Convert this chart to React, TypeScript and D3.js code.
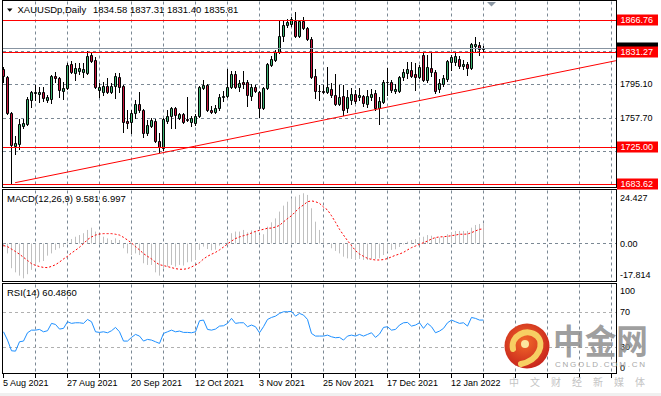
import * as d3 from 'd3';

const W = 661;
const H = 396;

// date labels under the chart, one every 16 bars
const dateLabels = ['5 Aug 2021', '27 Aug 2021', '20 Sep 2021', '12 Oct 2021', '3 Nov 2021', '25 Nov 2021', '17 Dec 2021', '12 Jan 2022'];
const dateIndex = [0, 16, 32, 48, 64, 80, 96, 112];

// daily XAUUSD bars, 5 Aug 2021 .. 24 Jan 2022
const opens = [1812.1, 1803.2, 1763.1, 1726.3, 1728.5, 1748.6, 1750.8, 1777.6, 1785.4, 1784.3, 1786.5, 1777.6, 1778.7, 1804.3, 1802.1, 1787.6, 1791.0, 1817.7, 1807.7, 1809.9, 1808.8, 1807.7, 1827.7, 1822.2, 1788.7, 1786.5, 1793.2, 1786.5, 1793.2, 1803.2, 1793.2, 1754.2, 1753.1, 1763.1, 1773.1, 1766.4, 1740.8, 1748.6, 1754.2, 1731.9, 1724.1, 1754.2, 1759.7, 1768.7, 1757.5, 1762.0, 1756.4, 1753.1, 1751.9, 1759.7, 1791.0, 1794.3, 1766.4, 1764.2, 1768.7, 1780.9, 1782.0, 1792.1, 1806.6, 1792.1, 1797.7, 1797.7, 1782.0, 1792.1, 1786.5, 1768.7, 1791.0, 1816.6, 1822.2, 1831.1, 1848.9, 1861.2, 1862.3, 1865.6, 1848.9, 1865.6, 1857.8, 1845.6, 1804.3, 1787.6, 1787.6, 1786.5, 1789.8, 1783.2, 1773.1, 1782.0, 1768.7, 1777.6, 1784.3, 1780.9, 1782.0, 1773.1, 1780.9, 1785.4, 1768.7, 1775.4, 1797.7, 1797.7, 1787.6, 1787.6, 1803.2, 1807.7, 1811.0, 1806.6, 1803.2, 1827.7, 1799.9, 1813.3, 1808.8, 1789.8, 1795.4, 1801.0, 1819.9, 1819.9, 1823.3, 1815.5, 1817.7, 1813.3, 1837.8, 1838.9, 1834.58];
const highs = [1814.4, 1804.3, 1764.2, 1737.5, 1756.4, 1756.4, 1780.9, 1787.6, 1794.3, 1792.1, 1792.1, 1783.2, 1805.5, 1808.8, 1803.2, 1797.7, 1818.8, 1821.1, 1818.8, 1818.8, 1818.8, 1832.2, 1831.1, 1825.5, 1796.5, 1797.7, 1802.1, 1796.5, 1807.7, 1807.7, 1794.3, 1766.4, 1766.4, 1777.6, 1786.5, 1767.5, 1755.3, 1757.5, 1756.4, 1740.8, 1757.5, 1766.4, 1769.8, 1769.8, 1763.1, 1763.1, 1780.9, 1759.7, 1762.0, 1793.2, 1799.9, 1795.4, 1770.9, 1772.0, 1784.3, 1787.6, 1812.1, 1809.9, 1809.9, 1799.9, 1809.9, 1799.9, 1795.4, 1794.3, 1787.6, 1792.1, 1818.8, 1826.6, 1833.3, 1866.8, 1866.8, 1867.9, 1870.1, 1875.7, 1866.8, 1870.1, 1859.0, 1847.8, 1812.1, 1794.3, 1794.3, 1814.4, 1796.5, 1806.6, 1794.3, 1794.3, 1788.7, 1791.0, 1788.7, 1791.0, 1783.2, 1788.7, 1789.8, 1788.7, 1780.9, 1799.9, 1813.3, 1799.9, 1795.4, 1804.3, 1812.1, 1819.9, 1819.9, 1818.8, 1816.6, 1831.1, 1827.7, 1830.0, 1811.0, 1801.0, 1805.5, 1822.2, 1827.7, 1830.0, 1826.6, 1822.2, 1819.9, 1841.1, 1847.8, 1842.2, 1837.31];
const lows = [1797.7, 1762.0, 1683.62, 1717.4, 1723.0, 1746.4, 1749.7, 1769.8, 1777.6, 1775.4, 1776.5, 1775.4, 1774.2, 1797.7, 1780.9, 1778.7, 1789.8, 1807.7, 1799.9, 1806.6, 1803.2, 1806.6, 1819.9, 1791.0, 1780.9, 1783.2, 1785.4, 1785.4, 1779.8, 1786.5, 1741.9, 1746.4, 1740.8, 1757.5, 1764.2, 1736.3, 1738.6, 1747.5, 1730.8, 1719.6, 1721.9, 1751.9, 1746.4, 1746.4, 1756.4, 1751.9, 1754.2, 1748.6, 1749.7, 1758.6, 1789.8, 1765.3, 1763.1, 1763.1, 1766.4, 1776.5, 1780.9, 1791.0, 1791.0, 1787.6, 1791.0, 1770.9, 1777.6, 1786.5, 1758.6, 1767.5, 1789.8, 1815.5, 1821.1, 1830.0, 1843.3, 1859.0, 1860.1, 1847.8, 1847.8, 1856.7, 1844.5, 1802.1, 1779.8, 1777.6, 1785.4, 1785.4, 1780.9, 1772.0, 1772.0, 1760.9, 1764.2, 1773.1, 1774.2, 1777.6, 1770.9, 1769.8, 1777.6, 1766.4, 1750.8, 1774.2, 1783.2, 1786.5, 1785.4, 1786.5, 1799.9, 1802.1, 1803.2, 1788.7, 1802.1, 1798.8, 1797.7, 1804.3, 1785.4, 1786.5, 1793.2, 1798.8, 1811.0, 1816.6, 1813.3, 1812.1, 1805.5, 1812.1, 1831.1, 1827.7, 1831.40];
const closes = [1804.3, 1763.1, 1727.4, 1729.6, 1750.8, 1751.9, 1778.7, 1786.5, 1786.5, 1786.5, 1779.8, 1780.9, 1804.3, 1802.1, 1788.7, 1791.0, 1816.6, 1808.8, 1813.3, 1813.3, 1812.1, 1826.6, 1821.1, 1792.1, 1792.1, 1793.2, 1786.5, 1793.2, 1804.3, 1792.1, 1753.1, 1751.9, 1763.1, 1773.1, 1766.4, 1740.8, 1749.7, 1755.3, 1731.9, 1725.2, 1756.4, 1759.7, 1768.7, 1760.9, 1762.0, 1753.1, 1755.3, 1757.5, 1759.7, 1792.1, 1794.3, 1766.4, 1764.2, 1768.7, 1780.9, 1782.0, 1792.1, 1806.6, 1792.1, 1796.5, 1795.4, 1783.2, 1792.1, 1787.6, 1768.7, 1791.0, 1817.7, 1823.3, 1831.1, 1848.9, 1861.2, 1864.5, 1867.9, 1848.9, 1865.6, 1857.8, 1845.6, 1803.2, 1787.6, 1787.1, 1786.5, 1792.1, 1783.2, 1773.1, 1780.9, 1766.4, 1780.9, 1784.3, 1776.5, 1783.2, 1774.2, 1782.0, 1784.3, 1768.7, 1776.5, 1797.7, 1797.1, 1788.7, 1789.8, 1803.2, 1808.8, 1811.6, 1804.3, 1803.2, 1814.4, 1799.9, 1814.4, 1808.8, 1787.6, 1796.5, 1802.1, 1821.1, 1825.5, 1826.6, 1815.5, 1817.7, 1812.7, 1840.0, 1840.0, 1834.4, 1835.81];

// MACD(12,26,9): main (grey histogram) and signal (red dots)
const macdMain = [-1.6, -4.9, -12.1, -14.1, -15.7, -17.0, -15.0, -12.9, -10.8, -9.2, -8.6, -6.0, -4.9, -3.2, -2.4, -1.8, 0.8, 2.1, 3.2, 4.0, 4.9, 6.5, 7.6, 5.7, 4.0, 3.2, 2.4, 1.6, 2.4, 1.6, -2.4, -4.9, -5.7, -4.9, -5.7, -9.7, -10.5, -10.5, -14.1, -15.7, -12.5, -11.3, -10.5, -11.3, -10.5, -10.8, -9.2, -8.9, -8.1, -3.2, -1.6, -2.8, -3.4, -3.1, -1.1, -0.3, 1.6, 4.9, 5.7, 5.7, 6.5, 5.3, 6.3, 6.0, 3.7, 4.4, 8.1, 10.2, 12.1, 15.4, 18.3, 20.2, 21.8, 22.7, 23.5, 24.3, 23.5, 17.0, 10.5, 6.5, 2.4, -0.5, -2.4, -3.7, -4.9, -6.5, -7.3, -7.6, -8.1, -7.6, -8.1, -8.1, -7.6, -7.6, -7.3, -5.7, -4.0, -3.2, -2.9, -1.8, -0.5, 0.8, 1.6, 2.1, 2.9, 3.2, 4.0, 3.7, 2.8, 2.8, 3.2, 4.4, 5.3, 6.0, 6.0, 6.0, 6.0, 7.6, 8.9, 9.4, 9.581];
const macdSignal = [-1.1, -1.6, -2.8, -4.0, -5.3, -6.8, -8.3, -9.9, -10.7, -11.3, -11.7, -11.8, -11.2, -10.4, -9.1, -7.6, -6.3, -4.7, -3.4, -1.9, -0.2, 1.8, 3.1, 4.0, 4.5, 4.7, 4.7, 4.7, 4.4, 4.0, 2.9, 1.6, 0.2, -1.6, -3.2, -5.0, -6.3, -7.6, -9.1, -10.4, -10.8, -11.3, -11.8, -12.3, -12.6, -12.6, -12.3, -11.5, -10.5, -9.4, -7.6, -6.3, -5.3, -4.4, -3.2, -1.8, -0.3, 1.1, 2.3, 3.1, 3.7, 4.2, 5.0, 5.8, 6.3, 6.8, 7.3, 7.4, 7.9, 8.7, 10.4, 12.0, 13.4, 15.4, 17.3, 18.6, 20.2, 20.6, 20.2, 19.4, 17.6, 16.2, 13.4, 10.2, 6.8, 4.0, 1.3, -1.1, -3.6, -5.2, -6.3, -7.3, -7.8, -8.1, -8.1, -7.9, -7.4, -6.6, -5.8, -5.2, -4.4, -3.2, -2.1, -1.3, -0.5, 0.3, 1.1, 2.1, 2.8, 3.1, 3.2, 3.4, 3.7, 4.0, 4.4, 4.4, 4.5, 5.2, 6.0, 6.8, 6.997];

// RSI(14)
const rsiValues = [47.1, 37.6, 25.4, 25.0, 35.7, 36.5, 46.0, 49.0, 49.0, 49.8, 47.1, 48.3, 56.7, 55.5, 50.2, 51.0, 58.6, 56.7, 57.4, 57.4, 56.7, 61.2, 58.6, 47.1, 46.4, 47.1, 46.0, 48.3, 52.1, 47.1, 36.5, 36.5, 40.7, 44.1, 42.2, 36.5, 38.4, 37.6, 35.7, 33.8, 45.2, 47.1, 49.0, 47.1, 47.9, 46.4, 46.4, 46.0, 47.1, 59.7, 60.5, 49.8, 49.0, 50.2, 53.6, 54.0, 56.7, 62.4, 56.7, 57.4, 57.4, 52.9, 54.8, 52.9, 46.0, 52.9, 61.2, 63.5, 65.0, 68.1, 70.0, 70.0, 70.4, 65.0, 68.1, 66.2, 61.2, 45.2, 42.2, 42.2, 42.2, 43.3, 41.4, 40.3, 40.7, 37.6, 42.2, 43.3, 42.2, 44.1, 42.2, 44.1, 46.0, 40.7, 44.5, 52.1, 52.9, 49.0, 49.8, 54.8, 57.4, 57.8, 53.6, 54.8, 57.4, 51.0, 56.7, 52.9, 46.0, 47.9, 51.0, 57.4, 60.5, 58.6, 56.7, 57.4, 53.6, 63.5, 62.4, 60.5, 60.486];

// horizontal support / resistance lines and price grid
const levelPrices = [1866.76, 1831.27, 1725.0, 1683.62];
const gridPrices = [1832.5, 1795.1, 1757.7, 1720.3];
// grid labels that are not hidden behind the red level labels
const gridLabels = [1795.1, 1757.7];
const bidPrice = 1835.81;
// rising trendline, bar index / price at both ends
const trendIndex = [2.9, 153.1];
const trendPrice = [1685.4, 1821.4];
const macdTicks = ['24.427', '0.00', '-17.814'];
const macdTickValues = [24.427, 0, -17.814];
const rsiLevels = [100, 70, 30, 0];

const FONT = "'Liberation Sans', Arial, sans-serif";
const GRID = '#7b8894';
const BULL = '#3cb371';
const BEAR = '#c8143c';

const PANE = {
  left: 2.5,
  right: 616.5,
  main: [0.5, 187.5],
  macd: [189.5, 281.5],
  rsi: [283.5, 373.5],
};

export default function App() {
  const n = closes.length;
  const x = d3.scaleLinear().domain([0, 1]).range([3.5, 7.5]);
  const y = d3.scaleLinear().domain([1683.62, 1866.76]).range([184.3, 20]);
  const yMacd = d3.scaleLinear().domain([-17.814, 24.427]).range([280, 193]);
  const yRsi = d3.scaleLinear().domain([0, 100]).range([373, 285.5]);
  const snap = (v: number) => Math.round(v) + 0.5;

  const gridX = d3.range(8, 160, 8).map(i => x(i));

  const signalLine = d3.line<number>().x((_, i) => x(i)).y(d => yMacd(d))(macdSignal) || '';
  const rsiLine = d3.line<number>().x((_, i) => x(i)).y(d => yRsi(d))(rsiValues) || '';

  const vGrid = (top: number, bottom: number, key: string) =>
    gridX.map((gx, k) => (
      <line key={key + k} x1={gx} x2={gx} y1={top + 1} y2={bottom} stroke={GRID} strokeDasharray="3,3" />
    ));

  const axisText = (label: string, yy: number, key: string, fill = '#000') => (
    <text key={key} x={620} y={yy + 3.3} fontSize={9} fill={fill} fontFamily={FONT}>{label}</text>
  );

  const redLabel = (p: number) => {
    const cy = snap(y(p)) - 0.5;
    return (
      <g key={'rl' + p}>
        <rect x={617} y={cy - 5.5} width={41} height={11} fill="#ff0000" />
        <text x={620.5} y={cy + 3.3} fontSize={9} fill="#fff" fontFamily={FONT}>{p.toFixed(2)}</text>
      </g>
    );
  };

  return (
    <div style={{ position: 'fixed', left: 0, top: 0 }}>
      <svg width={W} height={H} viewBox={`0 0 ${W} ${H}`} style={{ display: 'block', background: '#fff' }}>
        <rect x={0} y={0} width={W} height={H} fill="#fff" />
        <rect x={0} y={393} width={W} height={3} fill="#f0f0f0" />

        {/* grids */}
        {vGrid(PANE.main[0], PANE.main[1], 'gm')}
        {vGrid(PANE.macd[0], PANE.macd[1], 'gd')}
        {vGrid(PANE.rsi[0], PANE.rsi[1], 'gr')}
        {gridPrices.map(p => (
          <line key={'hp' + p} x1={3} x2={616} y1={snap(y(p))} y2={snap(y(p))} stroke={GRID} strokeDasharray="3,3" />
        ))}
        <line x1={3} x2={616} y1={snap(yMacd(0))} y2={snap(yMacd(0))} stroke={GRID} strokeDasharray="3,3" />
        {[70, 30].map(v => (
          <line key={'rl' + v} x1={3} x2={616} y1={snap(yRsi(v))} y2={snap(yRsi(v))} stroke="#b0b0b0" strokeDasharray="3,3" />
        ))}

        {/* candles */}
        {closes.map((c, i) => {
          const o = opens[i];
          const cx = x(i);
          const top = Math.round(y(Math.max(o, c)));
          const bot = Math.round(y(Math.min(o, c)));
          return (
            <g key={'c' + i}>
              <line x1={cx} x2={cx} y1={Math.round(y(highs[i]))} y2={Math.round(y(lows[i])) + 1} stroke="#000" />
              <path
                d={`M${cx - 1},${top + 0.5}H${cx + 1}V${bot + 0.5}H${cx - 1}Z`}
                fill={c >= o ? BULL : BEAR}
                stroke="#000"
              />
            </g>
          );
        })}

        {/* objects */}
        <line x1={3} x2={616} y1={snap(y(bidPrice))} y2={snap(y(bidPrice))} stroke="#8794a1" />
        {levelPrices.map(p => (
          <line key={'lv' + p} x1={3} x2={616} y1={snap(y(p))} y2={snap(y(p))} stroke="#ff0000" />
        ))}
        <line
          x1={x(trendIndex[0])} y1={y(trendPrice[0])}
          x2={x(trendIndex[1])} y2={y(trendPrice[1])}
          stroke="#ff0000" strokeWidth={1}
        />

        {/* MACD */}
        {macdMain.map((v, i) => (
          <line key={'m' + i} x1={x(i)} x2={x(i)} y1={snap(yMacd(0))} y2={yMacd(v)} stroke="#c0c0c0" />
        ))}
        <path d={signalLine} fill="none" stroke="#ff0000" strokeDasharray="2,2" />

        {/* RSI */}
        <path d={rsiLine} fill="none" stroke="#1e90ff" strokeWidth={1} />

        {/* frames */}
        {[PANE.main, PANE.macd, PANE.rsi].map((p, k) => (
          <rect key={'f' + k} x={PANE.left} y={p[0]} width={PANE.right - PANE.left} height={p[1] - p[0]} fill="none" stroke="#000" />
        ))}

        {/* shift marker */}
        <path d="M487,2 L496,2 L491.5,6.5 Z" fill="#8c98a4" />

        {/* price axis */}
        {gridLabels.map(p => axisText(p.toFixed(2), snap(y(p)) - 0.5, 'ga' + p))}
        {/* bid price box, mostly covered by the 1831.27 label */}
        <rect x={617} y={snap(y(bidPrice)) - 6} width={41} height={11} fill="#000" />
        {levelPrices.map(p => redLabel(p))}

        {/* MACD / RSI axes */}
        {macdTicks.map((t, k) => {
          const yy = k === 0 ? 197.3 : k === 2 ? 274.3 : yMacd(macdTickValues[k]);
          return axisText(t, yy, 'mt' + k);
        })}
        {rsiLevels.map(v => {
          const yy = v === 100 ? 290.7 : v === 0 ? 368 : yRsi(v);
          return axisText(String(v), yy, 'rt' + v);
        })}

        {/* time axis */}
        {[0, ...d3.range(8, 160, 8)].map(i => (
          <line key={'tt' + i} x1={x(i)} x2={x(i)} y1={374} y2={378} stroke="#000" />
        ))}
        {dateLabels.map((d, k) => (
          <text key={'dl' + k} x={x(dateIndex[k]) - 0.5} y={386.3} fontSize={9} fill="#000" fontFamily={FONT}>{d}</text>
        ))}

        {/* labels */}
        <path d="M7,8.5 L12.5,8.5 L9.75,11.8 Z" fill="#000" />
        <text x={17.5} y={13.4} fontSize={9.5} fill="#000" fontFamily={FONT}>XAUUSDp,Daily</text>
        <text x={93} y={13.4} fontSize={9.5} fill="#000" fontFamily={FONT} style={{ whiteSpace: 'pre' }}>
          {[opens[n - 1], highs[n - 1], lows[n - 1], closes[n - 1]].map(v => v.toFixed(2)).join(' ')}
        </text>
        <text x={7} y={201.6} fontSize={9.5} fill="#000" fontFamily={FONT}>
          {`MACD(12,26,9) ${macdMain[n - 1].toFixed(3)} ${macdSignal[n - 1].toFixed(3)}`}
        </text>
        <text x={7} y={296} fontSize={9.5} fill="#000" fontFamily={FONT}>
          {`RSI(14) ${rsiValues[n - 1].toFixed(4)}`}
        </text>

        {/* watermark */}
        <defs>
          <radialGradient id="logo-grad" cx="45%" cy="40%" r="60%">
            <stop offset="0%" stopColor="#f26a2a" />
            <stop offset="100%" stopColor="#c9261c" />
          </radialGradient>
        </defs>
        <circle cx={527} cy={346} r={22.5} fill="url(#logo-grad)" />
        <path d="M513,349 C510,336 527,327 537,336 C545,344 539,360 521,364" fill="none" stroke="#f7cf63" strokeWidth={6} strokeLinecap="round" />
        <circle cx={525} cy={344} r={4} fill="#fce6a0" />
        <text x={553} y={354} fontSize={34} fontWeight="bold" fill="#8e8e8e" fillOpacity={0.85}
          fontFamily="'Noto Sans CJK SC', sans-serif" textLength={95} lengthAdjust="spacingAndGlyphs">中金网</text>
        <text x={555} y={367} fontSize={8} fill="#a8a8a8" fontFamily={FONT} textLength={90} lengthAdjust="spacing">CNGOLD.COM.CN</text>
        <text x={509} y={386} fontSize={10} fill="#c4c4c4" fontFamily="'Noto Sans CJK SC', sans-serif" textLength={136} lengthAdjust="spacing">中文财经新媒体</text>
      </svg>
    </div>
  );
}
